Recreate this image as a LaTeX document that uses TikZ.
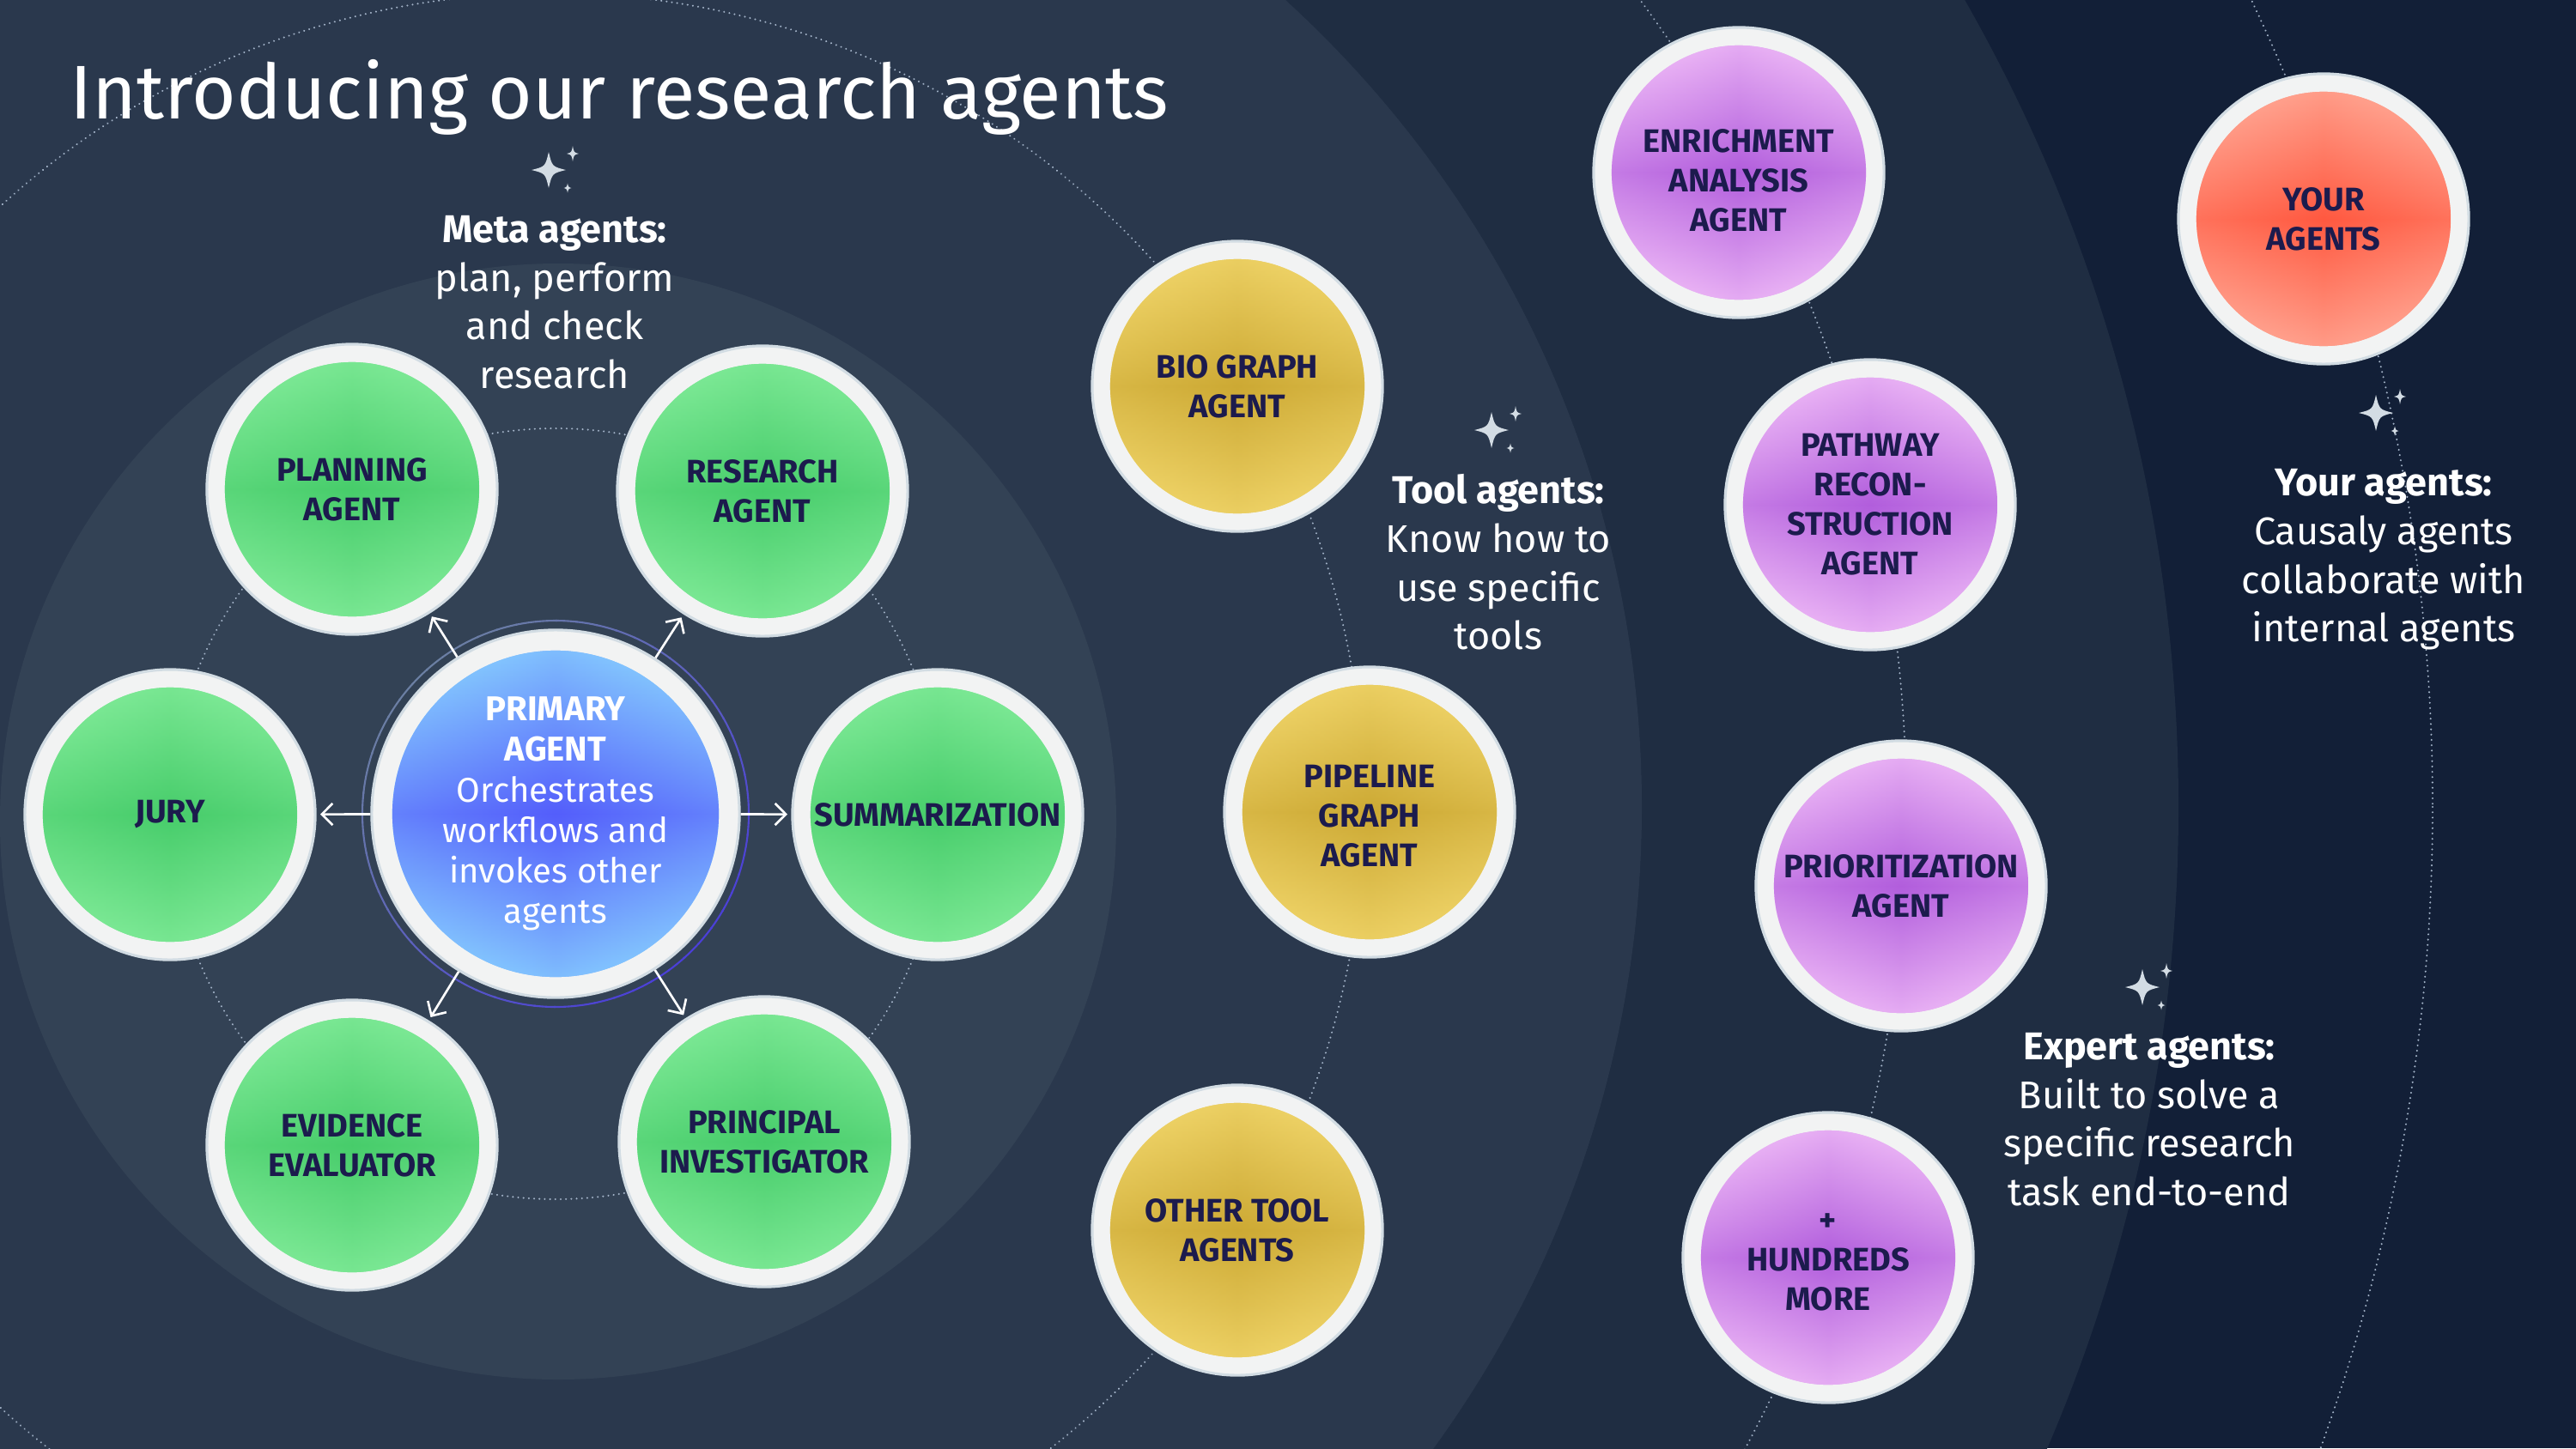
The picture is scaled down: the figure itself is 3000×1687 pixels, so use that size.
\documentclass[tikz,border=0pt]{standalone}
\usepackage{fontspec}
\setmainfont{Fira Sans}
\usetikzlibrary{arrows.meta}
\definecolor{bgout}{HTML}{121F37}
\definecolor{bandC}{HTML}{1F2D42}
\definecolor{bandB}{HTML}{2A384D}
\definecolor{bandA}{HTML}{334255}
\definecolor{orbitcol}{HTML}{A3B3C8}
\definecolor{ringfill}{HTML}{F2F3F3}
\definecolor{ringedge}{HTML}{D2DCE3}
\definecolor{navytext}{HTML}{1C1B4D}
\definecolor{sparkcol}{HTML}{D3DCE4}
\definecolor{thinA}{HTML}{6B7FA3}
\definecolor{thinB}{HTML}{4B3FD8}
\definecolor{gC}{HTML}{3CC762}\definecolor{gO}{HTML}{8AF0A0}
\definecolor{yC}{HTML}{C6A12A}\definecolor{yO}{HTML}{F6DC72}
\definecolor{pC}{HTML}{A64CD8}\definecolor{pO}{HTML}{F8C8FB}
\definecolor{rC}{HTML}{FF4A30}\definecolor{rO}{HTML}{FFB4A2}
\definecolor{bC}{HTML}{4A48FB}\definecolor{bO}{HTML}{8FE0FF}
\tikzset{
  ball/.style n args={3}{path picture={
    \fill[#2] (path picture bounding box.center) circle (#3);
    \begin{scope}
      \clip (path picture bounding box.center) circle (#3);
      \shade[left color=#2,right color=#2,middle color=#1,fill opacity=.62]
        ([shift={(-#3,-#3)}]path picture bounding box.center) rectangle ([shift={(#3,#3)}]path picture bounding box.center);
      \shade[top color=#2,bottom color=#2,middle color=#1,fill opacity=.62]
        ([shift={(-#3,-#3)}]path picture bounding box.center) rectangle ([shift={(#3,#3)}]path picture bounding box.center);
    \end{scope}}},
  agent/.style={circle, minimum size=3.38cm, inner sep=0pt, fill=ringfill, draw=ringedge,
    line width=0.9pt, align=center, text=navytext,
    font=\fontsize{10.8}{13.1}\selectfont\bfseries},
  green/.style={agent, ball={gC}{gO}{1.48cm}},
  yellow/.style={agent, ball={yC}{yO}{1.48cm}},
  purple/.style={agent, ball={pC}{pO}{1.48cm}},
  red/.style={agent, ball={rC}{rO}{1.48cm}},
  primarystyle/.style={circle, minimum size=4.28cm, inner sep=0pt, fill=ringfill, draw=ringedge,
    line width=0.9pt, align=center, text=white, ball={bC}{bO}{1.90cm},
    font=\fontsize{11.4}{13.4}\selectfont},
  orbitline/.style={draw=orbitcol, line width=0.65pt, line cap=round, dash pattern=on 0.01pt off 1.75pt},
  arrowline/.style={draw=white, line width=0.75pt, -{Straight Barb[length=3.6pt,width=7.2pt]}, shorten >=1.2pt},
  labeltext/.style={text=white, align=center, font=\fontsize{12.8}{16.1}\selectfont},
  sparkle/.pic={
    \fill[sparkcol] (0,-21) .. controls (4,-4) .. (20,0) .. controls (4,4) .. (0,21)
      .. controls (-4,4) .. (-20,0) .. controls (-4,-4) .. (0,-21) -- cycle;
    \fill[sparkcol] (28,-28) .. controls (29.4,-20.4) .. (35,-19) .. controls (29.4,-17.6) .. (28,-10)
      .. controls (26.6,-17.6) .. (21,-19) .. controls (26.6,-20.4) .. (28,-28) -- cycle;
    \fill[sparkcol] (22,15.5) .. controls (23,20) .. (26.5,21) .. controls (23,22) .. (22,26.5)
      .. controls (21,22) .. (17.5,21) .. controls (21,20) .. (22,15.5) -- cycle;
  }
}
\begin{document}
\begin{tikzpicture}[x=0.01cm,y=-0.01cm]
\useasboundingbox (0,0) rectangle (3000,1687);
\begin{scope}
\clip (0,0) rectangle (3000,1687);
\fill[bgout] (0,0) rectangle (3000,1687);
\fill[bandC] (640,940) circle[radius=1897];
\fill[bandB] (640,940) circle[radius=1272];
\fill[bandA] (650,957) circle[radius=650];
% orbits
\draw[orbitline] (647,948) circle[radius=449];
\draw[orbitline] (640,940) circle[radius=948];
\draw[orbitline] (640,940) circle[radius=1580];
\draw[orbitline] (640,940) circle[radius=2193];
\end{scope}

% thin ring around primary agent
\foreach \a in {0,6,...,354}{
  \pgfmathsetmacro\p{50+50*cos(\a+3-45)}
  \draw[line width=0.6pt, color=thinB!\p!thinA] ([shift={(\a:225)}]647,948) arc[start angle=\a, end angle=\a+6.5, radius=225];
}

% meta agents
\node[primarystyle] (primary) at (647,948) {\textbf{PRIMARY}\\\textbf{AGENT}\\Orchestrates\\workflows and\\invokes other\\agents};
\node[green] (planning) at (410,570) {PLANNING\\AGENT};
\node[green] (research) at (888,572) {RESEARCH\\AGENT};
\node[green] (jury) at (198,949) {JURY};
\node[green] (summarization) at (1092,949) {SUMMARIZATION};
\node[green] (evidence) at (410,1334) {EVIDENCE\\EVALUATOR};
\node[green] (principal) at (890,1330) {PRINCIPAL\\INVESTIGATOR};

% tool agents
\node[yellow] (biograph) at (1441,450) {BIO GRAPH\\AGENT};
\node[yellow] (pipeline) at (1595,946) {\rule{0pt}{0.95em}PIPELINE\\GRAPH\\AGENT};
\node[yellow] (othertool) at (1441,1433) {OTHER TOOL\\AGENTS};

% expert agents
\node[purple] (enrichment) at (2025,201) {\rule{0pt}{1.2em}ENRICHMENT\\ANALYSIS\\AGENT};
\node[purple] (pathway) at (2178,588) {PATHWAY\\RECON-\\STRUCTION\\AGENT};
\node[purple] (prioritization) at (2214,1032) {PRIORITIZATION\\AGENT};
\node[purple] (hundreds) at (2129,1465) {\rule{0pt}{0.85em}+\\HUNDREDS\\MORE};

% your agents
\node[red] (youragents) at (2706,255) {YOUR\\AGENTS};

% arrows
\foreach \t in {planning,research,jury,summarization,evidence,principal}{
  \draw[arrowline] (primary) -- (\t);
}

% title
\node[anchor=base west, text=white, inner sep=0pt, font=\fontsize{25.2}{30}\selectfont] (title) at (81,138) {Introducing our research agents};

% sparkles
\pic at (639,198) {sparkle};
\pic at (1737,501) {sparkle};
\pic at (2767,481) {sparkle};
\pic at (2495,1150) {sparkle};

% labels
\node[labeltext] (metatxt) at (646,352) {\textbf{Meta agents:}\\plan, perform\\and check\\research};
\node[labeltext] (tooltxt) at (1745,655) {\textbf{Tool agents:}\\Know how to\\use specific\\tools};
\node[labeltext] (yourtxt) at (2776,652) {\textbf{Your agents:}\\Causaly agents\\collaborate with\\internal agents};
\node[labeltext] (experttxt) at (2503,1304) {\textbf{Expert agents:}\\Built to solve a\\specific research\\task end-to-end};
\end{tikzpicture}
\end{document}
